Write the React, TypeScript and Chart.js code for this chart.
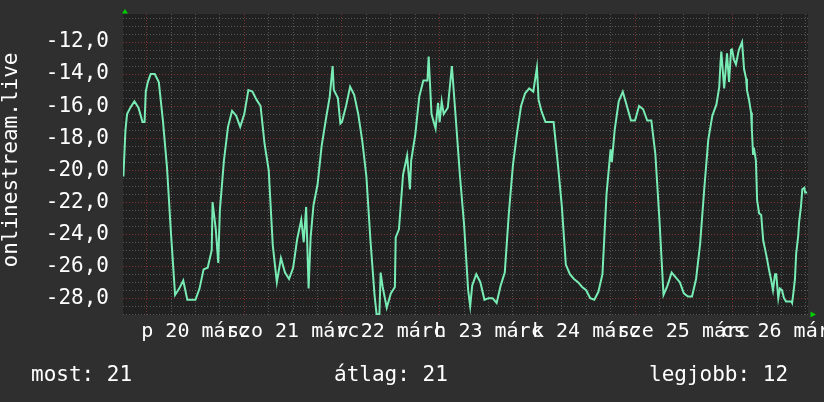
import React, { useEffect, useRef } from "react";
import { Chart, registerables } from "chart.js";

Chart.register(...registerables);

// Hours since midnight of 20 March, and the value read at that time
const hours = [
  -5.7, -5.2, -4.8, -4, -3, -2, -1, -0.5, -0.2, 0.3,
  1, 2, 3, 4, 5, 6, 7, 8, 9, 10, 11, 12,
  13, 14, 15, 16, 16.2, 17, 17.6, 18, 19, 20, 21, 22, 23,
  24, 25, 26, 27, 28, 29, 30, 31, 32, 33, 34, 35, 36,
  37, 38, 38.6, 39.2, 39.8, 40.3, 41, 42, 43, 44, 45, 45.7, 46, 47, 47.6,
  48, 49, 50, 51, 52, 53, 54, 55, 56, 56.5, 57.2, 57.5, 58, 59, 60,
  61, 61.2, 62, 63, 64, 64.7, 65, 66, 67, 68, 69, 69.3, 70, 71, 71.6,
  72, 72.5, 73, 74, 75, 76, 77, 78, 79, 79.5, 80, 81, 82, 83,
  84, 85, 86, 87, 88, 89, 90, 91, 92, 93, 94, 95, 95.9, 96.3,
  97, 98, 99, 100, 101, 102, 103, 104, 105, 106, 107, 108,
  109, 110, 111, 112, 113, 114, 114.3, 115, 116, 117, 118, 119, 120,
  121, 122, 123, 124, 125, 126, 127, 128, 129, 130, 131, 132,
  133, 134, 135, 136, 137, 138, 139, 140, 140.7,
  141, 141.2, 141.9, 142.6, 143.1, 143.6, 143.8, 144.3, 144.8, 145.5, 146.3, 146.8, 147.3, 147.5, 148,
  148.5, 148.7, 149, 149.2, 149.7, 150, 150.5, 151, 151.5, 152, 152.4, 152.9, 153.4, 153.9,
  154.4, 154.7, 155.2, 155.6, 156.1, 156.6, 157.1, 158.4, 158.6, 158.9, 159.3, 159.6, 160.1, 160.3, 160.8, 161.1, 161.6, 161.8, 162.3,
];

const values = [
  -20.4, -17.5, -16.5, -16.1, -15.7, -16.1, -17.0, -17.0, -15.1, -14.5,
  -14.0, -14.0, -14.5, -16.9, -19.8, -24.0, -27.8, -27.4, -26.9, -28.1, -28.1, -28.1,
  -27.4, -26.2, -26.1, -25.0, -22.0, -23.7, -25.8, -22.5, -19.4, -17.3, -16.3, -16.6, -17.3,
  -16.5, -15.0, -15.1, -15.6, -16.0, -18.4, -20.0, -24.7, -27.0, -25.5, -26.4, -26.8, -26.1,
  -24.3, -23.1, -24.5, -22.3, -27.4, -24.2, -22.2, -20.9, -18.5, -16.9, -15.4, -13.5, -15.0, -15.5, -17.1,
  -17.0, -16.0, -14.8, -15.3, -16.5, -18.2, -20.4, -24.4, -27.8, -29.0, -29.0, -26.4, -27.3, -28.6, -27.7,
  -27.3, -24.2, -23.7, -20.3, -19.1, -21.2, -19.4, -17.8, -15.4, -14.4, -14.4, -12.9, -16.5, -17.4, -15.8,
  -17.0, -15.7, -16.5, -16.1, -13.5, -16.9, -20.4, -23.4, -27.5, -28.5, -27.2, -26.5, -27.0, -28.1,
  -28.0, -28.0, -28.3, -27.2, -26.4, -22.7, -19.7, -17.7, -16.0, -15.2, -14.9, -15.1, -13.6, -15.6,
  -16.3, -17.0, -17.0, -17.0, -19.5, -22.2, -25.9, -26.5, -26.8, -27.0, -27.3, -27.5,
  -28.0, -28.1, -27.6, -26.5, -21.5, -18.7, -19.5, -17.5, -15.7, -15.1, -16.0, -16.9, -16.9,
  -16.0, -16.2, -16.9, -16.9, -19.0, -23.1, -27.8, -27.2, -26.4, -26.7, -27.0, -27.7,
  -27.9, -27.9, -26.8, -24.6, -21.2, -18.1, -16.6, -15.9, -14.8,
  -13.3, -12.6, -14.9, -12.7, -14.5, -12.5, -12.4, -13.1, -13.4, -12.5, -12.0, -13.7, -14.3, -15.0, -15.6,
  -16.4, -17.4, -19.0, -18.6, -19.4, -21.9, -22.7, -22.8, -24.4, -25.0, -25.5, -26.2, -26.8, -27.5,
  -26.5, -26.5, -28.0, -27.4, -27.5, -28.0, -28.2, -28.2, -28.3, -27.7, -26.8, -25.2, -24.1, -23.3, -22.2, -21.2, -21.1, -21.4, -21.4,
];

const dayLabels = ["p 20 márc", "szo 21 márc", "v 22 márc", "h 23 márc", "k 24 márc", "sze 25 márc", "cs 26 márc"];
const dayLabelHours = [12, 36, 60, 84, 108, 132, 156];
const yAxisTitle = "onlinestream.live";
const statTexts = ["most: 21", "átlag: 21", "legjobb: 12"];

const X_MIN = -5.8;
const X_MAX = 162.5;
const Y_MIN = -29.05;
const Y_MAX = -10.25;

const MONO = "'DejaVu Sans Mono', monospace";
const OUTER_BG = "#2f2f2f";
const PLOT_BG = "#212121";
const LINE = "#78ecb4";
const MINOR = "rgba(140,140,140,0.5)";
const MAJOR = "rgba(190,60,60,0.6)";
const ARROW = "#00d000";

const isMultiple = (v: number, m: number) => Math.abs(v / m - Math.round(v / m)) < 1e-6;

const decor = {
  id: "decor",
  beforeDraw(chart: any) {
    const { ctx, chartArea: a } = chart;
    ctx.save();
    ctx.fillStyle = OUTER_BG;
    ctx.fillRect(0, 0, chart.width, chart.height);
    ctx.fillStyle = PLOT_BG;
    ctx.fillRect(a.left, a.top, a.right - a.left, a.bottom - a.top);
    ctx.restore();
  },
  afterDraw(chart: any) {
    const { ctx, chartArea: a } = chart;
    ctx.save();
    // axis arrows
    ctx.fillStyle = ARROW;
    ctx.beginPath();
    ctx.moveTo(a.left - 1, a.top - 0.5);
    ctx.lineTo(a.left + 5, a.top - 0.5);
    ctx.lineTo(a.left + 2, a.top - 5);
    ctx.closePath();
    ctx.fill();
    ctx.beginPath();
    ctx.moveTo(a.right + 2.5, a.bottom - 3.5);
    ctx.lineTo(a.right + 2.5, a.bottom + 2.5);
    ctx.lineTo(a.right + 8, a.bottom - 0.5);
    ctx.closePath();
    ctx.fill();

    // vertical title
    ctx.fillStyle = "#ffffff";
    ctx.font = `21px ${MONO}`;
    ctx.translate(11.5, 160);
    ctx.rotate(-Math.PI / 2);
    ctx.textAlign = "center";
    ctx.textBaseline = "middle";
    ctx.fillText(yAxisTitle, 0, 0);
    ctx.setTransform(1, 0, 0, 1, 0, 0);

    // statistics line
    ctx.textAlign = "left";
    ctx.textBaseline = "alphabetic";
    const xs = [31, 334, 649];
    statTexts.forEach((t, i) => ctx.fillText(t, xs[i], 381));
    ctx.restore();
  },
};

export default function App() {
  const ref = useRef<HTMLCanvasElement>(null);

  useEffect(() => {
    document.body.style.margin = "0";
    const canvas = ref.current!;
    const chart = new Chart(canvas, {
      type: "line",
      data: {
        datasets: [
          {
            data: hours.map((h, i) => ({ x: h, y: values[i] })),
            borderColor: LINE,
            borderWidth: 2,
            pointRadius: 0,
            tension: 0,
            fill: false,
          },
        ],
      },
      options: {
        responsive: false,
        maintainAspectRatio: false,
        devicePixelRatio: 1,
        animation: false,
        events: [],
        layout: { padding: { left: 0, top: 14, right: 16, bottom: 0 } },
        plugins: { legend: { display: false }, tooltip: { enabled: false } },
        scales: {
          x: {
            type: "linear",
            min: X_MIN,
            max: X_MAX,
            afterFit: (s: any) => {
              s.height = 87;
              s.paddingLeft = 0;
              s.paddingRight = 0;
            },
            border: { display: false, dash: [1, 2] },
            grid: {
              drawTicks: false,
              lineWidth: 1,
              color: (c: any) => (isMultiple(c.tick.value, 24) ? MAJOR : MINOR),
            },
            ticks: {
              stepSize: 6,
              includeBounds: false,
              autoSkip: false,
              maxRotation: 0,
              minRotation: 0,
              padding: 5,
              color: "#ffffff",
              font: { family: MONO, size: 20 },
              callback: (v: any) => {
                const i = dayLabelHours.indexOf(Number(v));
                return i >= 0 ? dayLabels[i] : "";
              },
            },
          },
          y: {
            type: "linear",
            min: Y_MIN,
            max: Y_MAX,
            afterFit: (s: any) => {
              s.width = 123;
              s.paddingTop = 0;
              s.paddingBottom = 0;
            },
            border: { display: false, dash: [1, 2] },
            grid: {
              drawTicks: false,
              lineWidth: 1,
              color: (c: any) => (isMultiple(c.tick.value, 2) ? MAJOR : MINOR),
            },
            ticks: {
              stepSize: 0.5,
              includeBounds: false,
              autoSkip: false,
              padding: 14,
              color: "#ffffff",
              font: { family: MONO, size: 21 },
              callback: (v: any) => (isMultiple(Number(v), 2) ? Number(v).toFixed(1).replace(".", ",") : ""),
            },
          },
        },
      },
      plugins: [decor],
    });
    return () => chart.destroy();
  }, []);

  return (
    <div style={{ position: "fixed", left: 0, top: 0, width: 824, height: 402, background: OUTER_BG }}>
      <canvas ref={ref} width={824} height={402} style={{ display: "block", width: 824, height: 402 }} />
    </div>
  );
}
